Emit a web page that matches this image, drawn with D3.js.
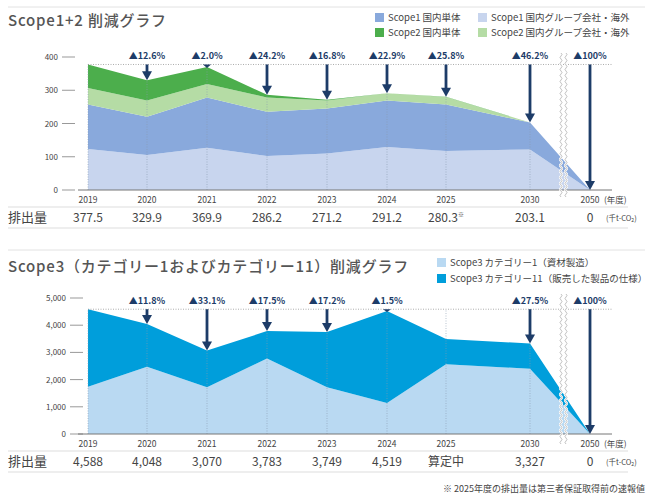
<!DOCTYPE html>
<html><head><meta charset="utf-8">
<script src="https://cdn.jsdelivr.net/npm/d3@7"></script>
<style>
body{margin:0;background:#fff;font-family:"Noto Sans CJK JP","Noto Sans",sans-serif;}
</style></head><body><svg id="c" width="653" height="500"></svg>
<script>
const years = ["2019","2020","2021","2022","2023","2024","2025","2030","2050"];
const yearX = [88,147,207,267,327,387,446,530,590];

// Scope1+2 (thousand t-CO2)
const s1Group = [123,105,127,102,110,129,117,122,0];
const s1Dom   = [134,115,151,133,135,140,140,81,0];
const s2Group = [50,49,41,43,24,22,23,0.1,0];
const s2Dom   = [70.5,60.9,50.9,8.2,2.2,0.2,0.3,0,0];
const totals1 = ["377.5","329.9","369.9","286.2","271.2","291.2","280.3","203.1","0"];
const pct1 = [null,"12.6","2.0","24.2","16.8","22.9","25.8","46.2","100"];
const ticks1 = [0,100,200,300,400];

// Scope3
const cat1  = [1733,2475,1720,2772,1720,1138,2560,2400,0];
const cat11 = [2855,1573,1350,1011,2029,3381,930,927,0];
const totals3 = ["4,588","4,048","3,070","3,783","3,749","4,519","算定中","3,327","0"];
const pct3 = [null,"11.8","33.1","17.5","17.2","1.5",null,"27.5","100"];
const ticks3 = [0,1000,2000,3000,4000,5000];

const svg = d3.select("#c");
const txt = "#444", navy = "#1d3c68";

svg.append("line").attr("x1",8).attr("x2",645).attr("y1",7).attr("y2",7).attr("stroke","#e2e2e2");
svg.append("line").attr("x1",8).attr("x2",645).attr("y1",250).attr("y2",250).attr("stroke","#e2e2e2");

function panel(o) {
  const g = svg.append("g");
  const x = i => yearX[i];
  const y = d3.scaleLinear().domain([0, o.ymax]).range([o.y0, o.ytop]);
  g.append("text").attr("x",8).attr("y",o.titleY).attr("font-size",15).attr("font-weight",500)
    .attr("fill","#555").attr("letter-spacing",0.8).text(o.title);
  o.legend.forEach(l=>{
    g.append("rect").attr("x",l[0]).attr("y",l[1]-8).attr("width",9).attr("height",9).attr("fill",l[2]);
    g.append("text").attr("x",l[0]+13).attr("y",l[1]).attr("font-size",9.5).attr("fill",txt).text(l[3]);
  });
  o.ticks.forEach(t=>{
    g.append("text").attr("x",o.labX).attr("y",y(t)+3).attr("text-anchor","end")
      .attr("font-size",8).attr("fill",txt).text(d3.format(o.fmt)(t));
    g.append("line").attr("x1",o.labX+4).attr("x2",o.labX+17).attr("y1",y(t)).attr("y2",y(t)).attr("stroke","#999");
  });
  const keys = o.series.map((s,k)=>"k"+k);
  const rows = years.map((yr,i)=>{const r={i}; o.series.forEach((s,k)=>r["k"+k]=s[i]); return r;});
  const stack = d3.stack().keys(keys)(rows);
  const area = d3.area().x(d=>x(d.data.i)).y0(d=>y(d[0])).y1(d=>y(d[1]));
  g.selectAll(".a").data(stack).enter().append("path").attr("d",area).attr("fill",(d,k)=>o.colors[k]);
  const tot = i => d3.sum(o.series, s=>s[i]);
  const refY = y(tot(0));
  years.forEach((yr,i)=>{
    const top = (o.pct[i] || i===0) ? y(tot(i)) : refY;
    g.append("line").attr("x1",x(i)).attr("x2",x(i)).attr("y1",o.y0).attr("y2",top)
      .attr("stroke","#8a9ab0").attr("stroke-width",0.6).attr("stroke-dasharray","1,1.5");
  });
  g.append("line").attr("x1",x(0)).attr("x2",612).attr("y1",refY).attr("y2",refY)
    .attr("stroke","#888").attr("stroke-width",0.7).attr("stroke-dasharray","1,1.5");
  g.append("line").attr("x1",78).attr("x2",612).attr("y1",o.y0).attr("y2",o.y0).attr("stroke","#777");
  [561,566].forEach(bx=>{
    let p = "M"+bx+","+(o.ytop-4);
    for (let yy=o.ytop-4; yy<o.y0+6; yy+=6) p += "q2,1.5 0,3 q-2,1.5 0,3";
    g.append("path").attr("d",p).attr("fill","none").attr("stroke","#fff").attr("stroke-width",2.2);
    g.append("path").attr("d",p).attr("fill","none").attr("stroke","#999").attr("stroke-width",0.6);
  });
  years.forEach((yr,i)=>{
    if (!o.pct[i]) return;
    const yt = y(tot(i)), xi = x(i);
    if (yt - refY > 8) {
      g.append("line").attr("x1",xi).attr("x2",xi).attr("y1",refY).attr("y2",yt-8)
        .attr("stroke",navy).attr("stroke-width",2.8);
      g.append("path").attr("d",`M${xi-5},${yt-9}L${xi+5},${yt-9}L${xi},${yt}Z`).attr("fill",navy);
    } else {
      g.append("path").attr("d",`M${xi-4},${refY}L${xi+4},${refY}L${xi},${yt+1}Z`).attr("fill",navy);
    }
    g.append("text").attr("x",xi).attr("y",refY-5).attr("text-anchor","middle").attr("font-size",9)
      .attr("font-weight",700).attr("fill",navy).text("▲"+o.pct[i]+"%");
  });
  const ty = o.y0 + 13;
  years.forEach((yr,i)=>g.append("text").attr("x",x(i)).attr("y",ty).attr("text-anchor","middle")
    .attr("font-size",8.5).attr("fill",txt).text(yr));
  g.append("text").attr("x",604).attr("y",ty).attr("font-size",8.5).attr("fill",txt).text("(年度)");
  g.append("line").attr("x1",8).attr("x2",628).attr("y1",ty+4).attr("y2",ty+4).attr("stroke","#ddd");
  g.append("line").attr("x1",8).attr("x2",628).attr("y1",ty+25).attr("y2",ty+25).attr("stroke","#ddd");
  g.append("text").attr("x",8).attr("y",ty+19).attr("font-size",13).attr("fill",txt).text("排出量");
  o.totals.forEach((t,i)=>{
    const tx = g.append("text").attr("x",x(i)).attr("y",ty+19).attr("text-anchor","middle")
      .attr("font-size",12).attr("fill",txt).text(t);
    if (o.mark===i) tx.append("tspan").attr("font-size",6).attr("dy",-5).text("※");
  });
  const u = g.append("text").attr("x",606).attr("y",ty+18).attr("font-size",7.5).attr("fill",txt).text("(千t-CO");
  u.append("tspan").attr("font-size",5).attr("dy",1).text("2");
  u.append("tspan").attr("dy",-1).text(")");
}

panel({title:"Scope1+2 削減グラフ", titleY:26, ymax:400, y0:190, ytop:57, labX:58, fmt:",",
  ticks:ticks1, series:[s1Group,s1Dom,s2Group,s2Dom],
  colors:["#c8d5ee","#89a9dc","#b5dca5","#4cae4c"],
  legend:[[375,21,"#89a9dc","Scope1 国内単体"],[478,21,"#c8d5ee","Scope1 国内グループ会社・海外"],
          [375,36,"#4cae4c","Scope2 国内単体"],[478,36,"#b5dca5","Scope2 国内グループ会社・海外"]],
  pct:pct1, totals:totals1, mark:6});

panel({title:"Scope3（カテゴリー1およびカテゴリー11）削減グラフ", titleY:272, ymax:5000, y0:434, ytop:298, labX:66, fmt:",",
  ticks:ticks3, series:[cat1,cat11], colors:["#b9d9f2","#009edb"],
  legend:[[437,266,"#b9d9f2","Scope3 カテゴリー1（資材製造）"],[437,282,"#009edb","Scope3 カテゴリー11（販売した製品の仕様）"]],
  pct:pct3, totals:totals3, mark:-1});

svg.append("text").attr("x",645).attr("y",492).attr("text-anchor","end").attr("font-size",9)
  .attr("fill",txt).text("※ 2025年度の排出量は第三者保証取得前の速報値");
</script></body></html>
